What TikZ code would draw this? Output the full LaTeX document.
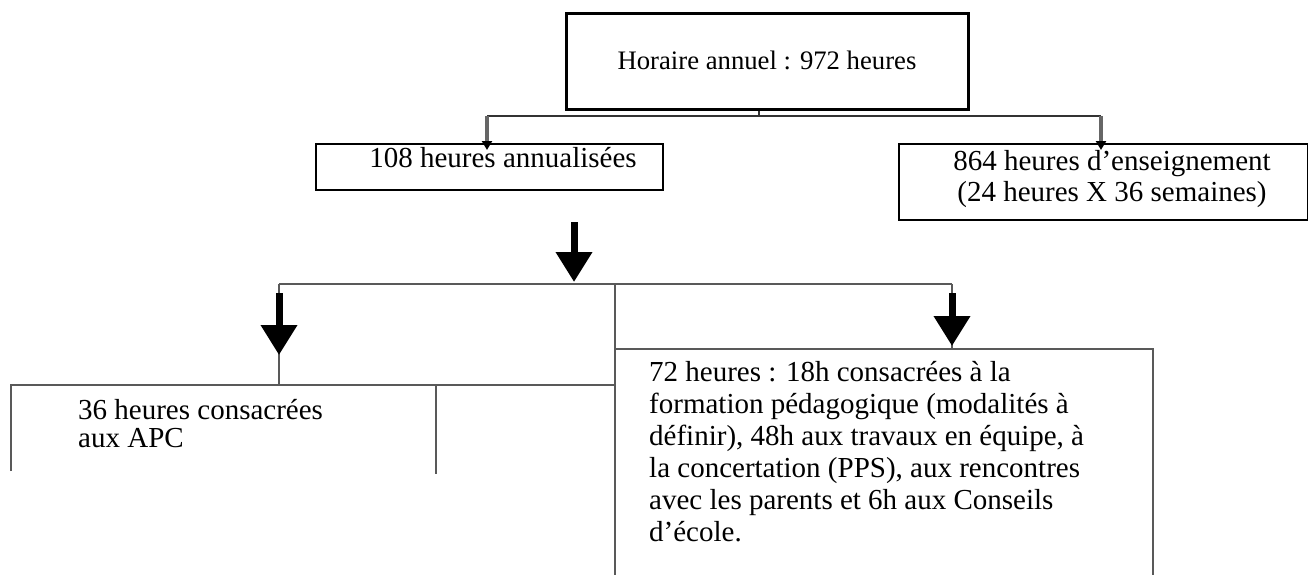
\documentclass[tikz,border=0pt]{standalone}
\usepackage{fontspec}
\setmainfont{Liberation Serif}
\usetikzlibrary{arrows.meta}

\tikzset{
  box/.style={draw=black, line width=2pt, anchor=north west, inner sep=0pt},
  txt/.style={inner sep=0pt, font=\fontsize{29}{31}\selectfont},
  link/.style={draw=black!80, line width=2pt},
  frame/.style={draw=black!65, line width=1.5pt},
  thinarrow/.style={draw=black!60, line width=3.5pt, -{Triangle[width=10pt,length=9pt,color=black]}},
  bigarrow/.style={black, line width=7pt, -{Triangle[width=35pt,length=30pt]}},
}

\begin{document}
\begin{tikzpicture}[x=1pt, y=-1pt]
    \useasboundingbox (0,0) rectangle (1308,575);
    \clip (0,0) rectangle (1308,575);

    % first level
    \node[box, line width=2.6pt, minimum width=402pt, minimum height=96pt] (annual) at (565,12) {};
    \node[txt, font=\fontsize{26.7}{30}\selectfont] (annualtxt) at (767,60) {Horaire annuel : 972 heures};

    % second level
    \node[box, minimum width=347pt, minimum height=46pt] (split) at (315,143) {};
    \node[txt] (splittxt) at (503,158) {108 heures annualisées};

    \node[box, minimum width=409pt, minimum height=76pt] (teach) at (898,143) {};
    \node[txt, align=center] (teachtxt) at (1112,179) {864 heures d’enseignement\\(24 heures X 36 semaines)};

    % fork below the first box
    \coordinate (leftfork) at (487,116);
    \coordinate (rightfork) at (1101,116);
    \draw[link] ([xshift=-8pt]annual.south) -- ([xshift=-8pt]annual.south |- leftfork);
    \draw[link] (leftfork) -- (rightfork);
    \draw[thinarrow] (leftfork) -- (leftfork |- 0,150);
    \draw[thinarrow] (rightfork) -- (rightfork |- 0,150);

    % free arrow under the 108 h box
    \coordinate (bigtop) at (574,222);
    \coordinate (bigtip) at (574,282);
    \draw[bigarrow] (bigtop) -- (bigtip);

    % third level: open boxes, cut at the bottom
    \coordinate (apcfork) at (279,284);
    \coordinate (midfork) at (615,284);
    \coordinate (teamfork) at (952,284);
    \draw[frame] (apcfork) -- (teamfork);
    \draw[frame] (11,471) -- (11,385) -- (615,385);
    \draw[frame] (436,385) -- (436,474);
    \draw[frame] (midfork) -- (615,580);
    \draw[frame] (615,349) -- (1153,349) -- (1153,580);

    \draw[frame] (apcfork) -- (apcfork |- 0,385);
    \draw[bigarrow] (279,293) -- (279,355);
    \draw[frame] (teamfork) -- (teamfork |- 0,349);
    \draw[bigarrow] (952,293) -- (952,346);

    \node[txt, align=left, anchor=north west, font=\fontsize{29}{28}\selectfont] (apc) at (78,399) {36 heures consacrées\\aux APC};
    \node[txt, align=left, anchor=north west, font=\fontsize{29}{32}\selectfont] (team) at (649,361)
        {72 heures : 18h consacrées à la\\
         formation pédagogique (modalités à\\
         définir), 48h aux travaux en équipe, à\\
         la concertation (PPS), aux rencontres\\
         avec les parents et 6h aux Conseils\\
         d’école.};
\end{tikzpicture}
\end{document}
